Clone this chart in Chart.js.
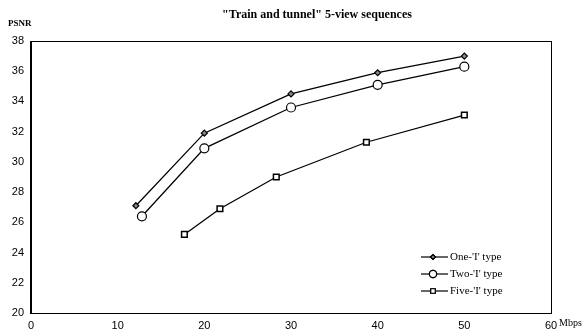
<!DOCTYPE html>
<html>
<head>
<meta charset="utf-8">
<script src="https://cdn.jsdelivr.net/npm/chart.js@4"></script>
<style>
  html, body { margin: 0; padding: 0; background: #fff; }
  #wrap { width: 587px; height: 336px; }
</style>
</head>
<body>
<div id="wrap"><canvas id="mychart" width="587" height="336"></canvas></div>
<script>
// data
let seriesNames = ["One-'I' type", "Two-'I' type", "Five-'I' type"];
let oneX = [12.1, 20, 30, 40, 50];
let oneY = [27.1, 31.9, 34.5, 35.9, 37.0];
let twoX = [12.8, 20, 30, 40, 50];
let twoY = [26.4, 30.9, 33.6, 35.1, 36.3];
let fiveX = [17.7, 21.8, 28.3, 38.7, 50];
let fiveY = [25.2, 26.9, 29.0, 31.3, 33.1];
let xTicks = [0, 10, 20, 30, 40, 50, 60];
let yTicks = [20, 22, 24, 26, 28, 30, 32, 34, 36, 38];

function toPoints(xs, ys) {
  return xs.map((x, i) => ({ x: x, y: ys[i] }));
}

// frame, titles and in-plot legend
let extras = {
  id: "extras",
  afterDraw(chart) {
    let ctx = chart.ctx;
    let a = chart.chartArea;
    ctx.save();
    ctx.strokeStyle = "#000";
    ctx.lineWidth = 1;
    ctx.strokeRect(a.left + 0.5, a.top + 0.5, a.right - a.left, a.bottom - a.top);
    ctx.lineWidth = 2;
    ctx.beginPath();
    ctx.moveTo(a.left, a.top);
    ctx.lineTo(a.left, a.bottom + 1);
    ctx.stroke();

    ctx.fillStyle = "#000";
    ctx.textBaseline = "middle";
    ctx.textAlign = "center";
    ctx.font = "bold 12px 'Liberation Serif'";
    ctx.fillText('"Train and tunnel" 5-view sequences', 317, 15);
    ctx.textAlign = "left";
    ctx.font = "bold 9px 'Liberation Serif'";
    ctx.fillText("PSNR", 8, 24);
    ctx.font = "10px 'Liberation Serif'";
    ctx.fillText("Mbps", 559, 323);

    // legend
    ctx.font = "11px 'Liberation Serif'";
    chart.data.datasets.forEach((ds, i) => {
      let y = 257 + i * 17;
      ctx.lineWidth = 1.2;
      ctx.beginPath();
      ctx.moveTo(421, y);
      ctx.lineTo(448, y);
      ctx.stroke();
      Chart.helpers.drawPoint(ctx, {
        pointStyle: ds.pointStyle,
        radius: ds.pointRadius * 0.8,
        rotation: 0,
        borderWidth: ds.pointBorderWidth
      }, 433, y);
      ctx.fillStyle = ds.pointBackgroundColor;
      ctx.fill();
      ctx.stroke();
      ctx.fillStyle = "#000";
      ctx.fillText(ds.label, 450, y);
    });
    ctx.restore();
  }
};

let mychart = document.getElementById("mychart").getContext("2d");
let chart = new Chart(mychart, {
  type: "scatter",
  data: {
    datasets: [
      {
        label: seriesNames[0],
        data: toPoints(oneX, oneY),
        showLine: true,
        borderColor: "#000",
        borderWidth: 1.3,
        pointStyle: "rectRot",
        pointRadius: 3,
        pointBorderWidth: 1.2,
        pointBackgroundColor: "#888",
        pointBorderColor: "#000",
      },
      {
        label: seriesNames[1],
        data: toPoints(twoX, twoY),
        showLine: true,
        borderColor: "#000",
        borderWidth: 1.3,
        pointStyle: "circle",
        pointRadius: 4.5,
        pointBorderWidth: 1.2,
        pointBackgroundColor: "#fff",
        pointBorderColor: "#000",
      },
      {
        label: seriesNames[2],
        data: toPoints(fiveX, fiveY),
        showLine: true,
        borderColor: "#000",
        borderWidth: 1.3,
        pointStyle: "rect",
        pointRadius: 4,
        pointBorderWidth: 1.5,
        pointBackgroundColor: "#fff",
        pointBorderColor: "#000",
      },
    ],
  },
  plugins: [extras],
  options: {
    responsive: false,
    animation: false,
    layout: { padding: { top: 41, right: 36, left: 0, bottom: 0 } },
    plugins: {
      legend: { display: false },
      title: { display: false },
      tooltip: { enabled: false },
    },
    scales: {
      x: {
        type: "linear",
        min: 0,
        max: 60,
        afterBuildTicks: (axis) => { axis.ticks = xTicks.map((v) => ({ value: v })); },
        afterFit: (axis) => { axis.height = 23; },
        grid: { display: false, drawTicks: false },
        border: { display: false },
        ticks: {
          color: "#000",
          padding: 6,
          maxRotation: 0,
          font: { family: "'Liberation Sans'", size: 11 },
        },
      },
      y: {
        type: "linear",
        min: 20,
        max: 38,
        afterBuildTicks: (axis) => { axis.ticks = yTicks.map((v) => ({ value: v })); },
        afterFit: (axis) => { axis.width = 31; },
        grid: { display: false, drawTicks: false },
        border: { display: false },
        ticks: {
          color: "#000",
          padding: 7,
          font: { family: "'Liberation Sans'", size: 11 },
        },
      },
    },
  },
});
</script>
</body>
</html>
